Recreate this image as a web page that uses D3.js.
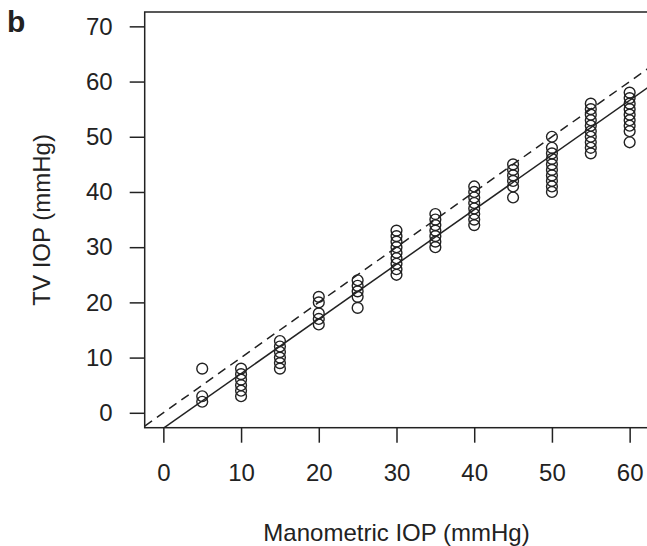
<!DOCTYPE html>
<html>
<head>
<meta charset="utf-8">
<script src="https://cdn.jsdelivr.net/npm/d3@7"></script>
<style>
  body { margin: 0; background: #fff; }
  text { font-family: "Liberation Sans", Arial, sans-serif; fill: #222; }
</style>
</head>
<body>
<script>
// manometric IOP settings and measured TV IOP readings
const manometric = [5, 10, 15, 20, 25, 30, 35, 40, 45, 50, 55, 60];
const tvReadings = [
  [8, 3, 2],
  [8, 7, 6, 5, 4, 3],
  [13, 12, 11, 10, 9, 8],
  [21, 20, 18, 17, 16],
  [24, 23, 22, 21, 19],
  [33, 32, 31, 30, 29, 28, 27, 26, 25],
  [36, 35, 34, 33, 32, 31, 30],
  [41, 40, 39, 38, 37, 36, 35, 34],
  [45, 44, 43, 42, 41, 39],
  [50, 48, 47, 46, 45, 44, 43, 42, 41, 40],
  [56, 55, 54, 53, 52, 51, 50, 49, 48, 47],
  [58, 57, 56, 55, 54, 53, 52, 51, 49]
];
const xTicks = [0, 10, 20, 30, 40, 50, 60];
const yTicks = [0, 10, 20, 30, 40, 50, 60, 70];
// fitted regression line (solid) and identity line (dashed)
const fitLine = {intercept: -2.8, slope: 0.99};
const identityLine = {intercept: 0, slope: 1};

const points = [];
manometric.forEach(function(m, i) {
  tvReadings[i].forEach(function(v) { points.push({x: m, y: v}); });
});

const W = 647, H = 546;
const pLeft = 144.7, pRight = 648.3, pTop = 12, pBottom = 427.7;

var x = d3.scaleLinear().domain([-2.4, 62.4]).range([pLeft, pRight]);
var y = d3.scaleLinear().domain([-2.7, 72.6]).range([pBottom, pTop]);

var svg = d3.select("body").append("svg")
    .attr("width", W)
    .attr("height", H);

svg.append("defs").append("clipPath").attr("id", "plotclip")
  .append("rect")
    .attr("x", pLeft).attr("y", pTop)
    .attr("width", pRight - pLeft).attr("height", pBottom - pTop);

// abline helper
function abline(l) {
  var xs = x.domain();
  return [[xs[0], l.intercept + l.slope * xs[0]], [xs[1], l.intercept + l.slope * xs[1]]];
}
var line = d3.line().x(function(d) { return x(d[0]); }).y(function(d) { return y(d[1]); });

var plot = svg.append("g").attr("clip-path", "url(#plotclip)");

plot.append("path")
    .attr("d", line(abline(identityLine)))
    .attr("fill", "none")
    .attr("stroke", "#222")
    .attr("stroke-width", 1.5)
    .attr("stroke-dasharray", "9,6");

plot.append("path")
    .attr("d", line(abline(fitLine)))
    .attr("fill", "none")
    .attr("stroke", "#222")
    .attr("stroke-width", 1.5);

plot.selectAll("circle")
    .data(points)
    .enter().append("circle")
    .attr("cx", function(d) { return x(d.x); })
    .attr("cy", function(d) { return y(d.y); })
    .attr("r", 5.4)
    .attr("fill", "none")
    .attr("stroke", "#222")
    .attr("stroke-width", 1.4);

// box
svg.append("rect")
    .attr("x", pLeft).attr("y", pTop)
    .attr("width", pRight - pLeft).attr("height", pBottom - pTop)
    .attr("fill", "none")
    .attr("stroke", "#222")
    .attr("stroke-width", 1.5);

// x axis
var xAxis = svg.append("g")
    .attr("transform", "translate(0," + pBottom + ")")
    .call(d3.axisBottom(x).tickValues(xTicks).tickSize(15).tickPadding(21).tickFormat(d3.format("d")));
xAxis.select(".domain").remove();
xAxis.selectAll("line").attr("stroke", "#222").attr("stroke-width", 1.5);
xAxis.selectAll("text").attr("font-size", 24).attr("fill", "#222")
    .style("font-family", "Liberation Sans, Arial, sans-serif");

// y axis
var yAxis = svg.append("g")
    .attr("transform", "translate(" + pLeft + ",0)")
    .call(d3.axisLeft(y).tickValues(yTicks).tickSize(15).tickPadding(17).tickFormat(d3.format("d")));
yAxis.select(".domain").remove();
yAxis.selectAll("line").attr("stroke", "#222").attr("stroke-width", 1.5);
yAxis.selectAll("text").attr("font-size", 24).attr("fill", "#222")
    .style("font-family", "Liberation Sans, Arial, sans-serif");

// axis titles
svg.append("text")
    .attr("x", (pLeft + pRight) / 2)
    .attr("y", 541)
    .attr("text-anchor", "middle")
    .attr("font-size", 24)
    .text("Manometric IOP (mmHg)");

svg.append("text")
    .attr("transform", "translate(50," + ((pTop + pBottom) / 2) + ") rotate(-90)")
    .attr("text-anchor", "middle")
    .attr("font-size", 24)
    .text("TV IOP (mmHg)");

svg.append("text")
    .attr("x", 7)
    .attr("y", 32)
    .attr("font-size", 30)
    .attr("font-weight", "bold")
    .text("b");
</script>
</body>
</html>
